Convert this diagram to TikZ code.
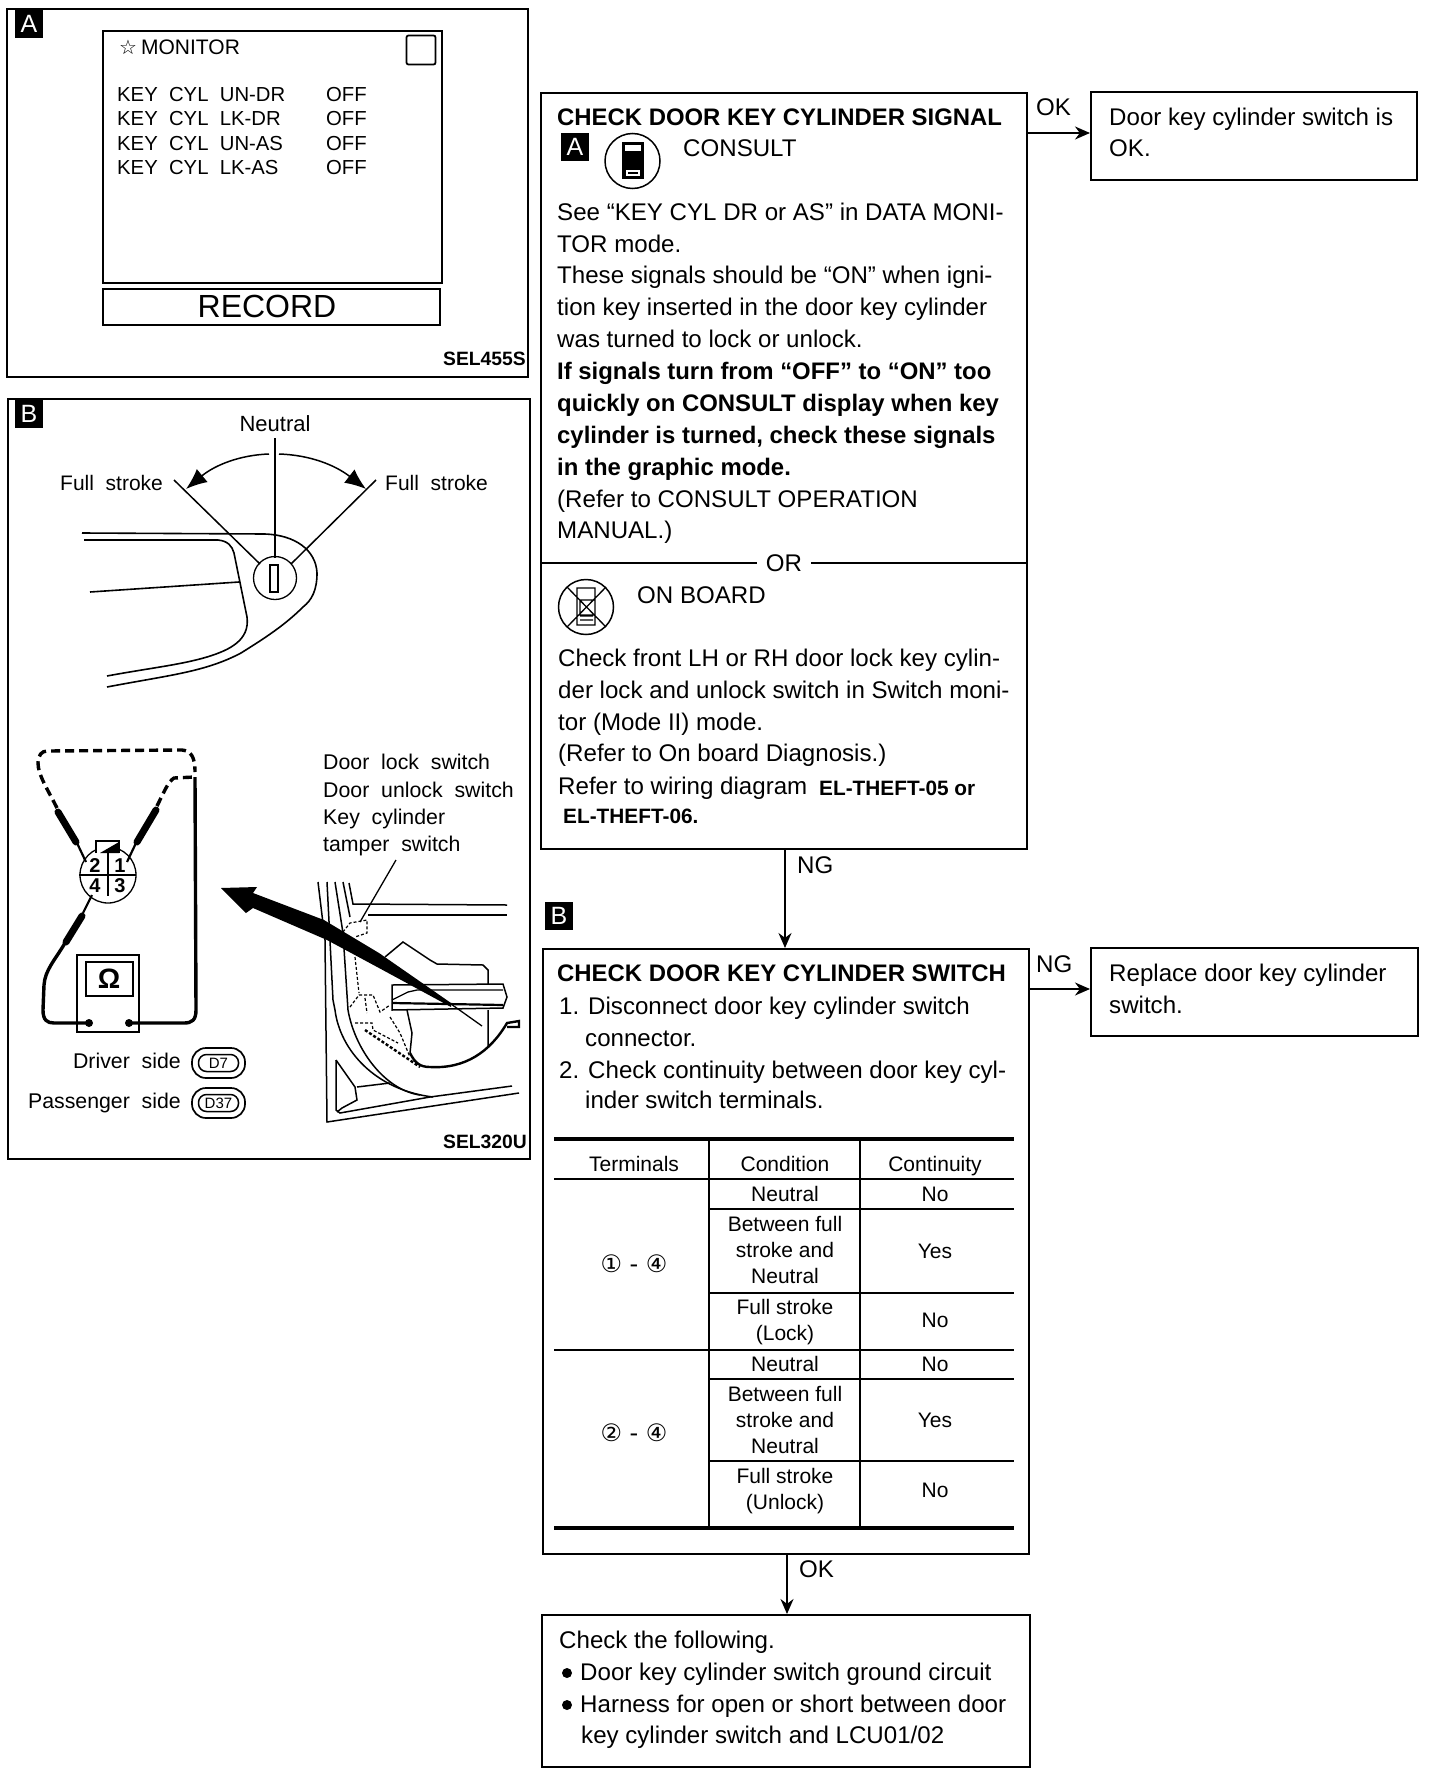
\documentclass[tikz,border=0pt]{standalone}
\usepackage{fontspec}
\setmainfont{Liberation Sans}
\newfontfamily\djv{DejaVu Sans}
\usetikzlibrary{arrows.meta}
\tikzset{
 x=1pt,y=-1pt,
 box/.style={draw,line width=1.7pt},
 body/.style={anchor=base west,inner sep=0pt,font=\fontsize{24.1}{28}\selectfont},
 bodyb/.style={anchor=base west,inner sep=0pt,font=\fontsize{23.9}{28}\bfseries\selectfont},
 small/.style={anchor=base west,inner sep=0pt,font=\fontsize{20.3}{24}\selectfont},
 sketchlabel/.style={anchor=base west,inner sep=0pt,font=\fontsize{21.3}{24}\selectfont},
 cell/.style={anchor=base,inner sep=0pt,align=center,font=\fontsize{21}{26}\selectfont},
 badge/.style={fill=black,text=white,inner sep=0pt,minimum width=28pt,minimum height=28pt,font=\fontsize{25}{25}\selectfont},
 flow/.style={line width=1.7pt,-{Stealth[length=15pt,width=13pt]}},
 thin line/.style={line width=1.3pt},
 bighead/.style={-{Latex[length=21pt,width=17pt]}},
 probe/.style={line width=7pt,line cap=round},
 wire/.style={line width=3.4pt},
 dashwire/.style={line width=3.4pt,dash pattern=on 9pt off 5pt},
 pin/.style={anchor=base,inner sep=0pt,font=\fontsize{20}{20}\bfseries\selectfont},
 pill/.style={draw,line width=1.7pt,rounded corners=14pt,minimum width=53pt,minimum height=30pt,inner sep=0pt},
 pillin/.style={draw,line width=1.5pt,rounded corners=8pt,minimum width=40pt,minimum height=17pt,inner sep=0pt,font=\fontsize{15}{15}\selectfont},
 doorline/.style={line width=1.5pt},
 doordash/.style={line width=1.2pt,densely dashed},
}
\begin{document}
\begin{tikzpicture}
\useasboundingbox (0,0) rectangle (1440,1774);
% Panel A
\node[box,minimum width=521pt,minimum height=368pt,anchor=north west,inner sep=0pt] (pa) at (6,8) {};
\node[badge] (ba) at (29,24) {A};
\node[box,minimum width=339pt,minimum height=252pt,anchor=north west,inner sep=0pt] (scr) at (102,30) {};
\node[draw,line width=1.8pt,rounded corners=2pt,minimum width=29pt,minimum height=29pt,inner sep=0pt] (sq) at (421,50) {};
\node[small,font=\fontsize{21}{24}\selectfont] (m) at (119,55) {{\djv\fontsize{20}{20}\selectfont ☆}\hspace{4pt}MONITOR};
\node[small] (k1) at (117,102) {KEY\ \ CYL\ \ UN-DR};
\node[small] (k2) at (117,126) {KEY\ \ CYL\ \ LK-DR};
\node[small] (k3) at (117,150) {KEY\ \ CYL\ \ UN-AS};
\node[small] (k4) at (117,174) {KEY\ \ CYL\ \ LK-AS};
\node[small] (o1) at (326,102) {OFF};
\node[small] (o2) at (326,126) {OFF};
\node[small] (o3) at (326,150) {OFF};
\node[small] (o4) at (326,174) {OFF};
\node[box,minimum width=337pt,minimum height=36pt,inner sep=0pt,anchor=north west] (rec) at (102,288) {};
\node[inner sep=0pt,anchor=base,font=\fontsize{32}{32}\selectfont] (rect) at (267,317) {RECORD};
\node[anchor=base east,inner sep=0pt,font=\fontsize{19.3}{22}\bfseries\selectfont] (s1) at (526,365) {SEL455S};
% Panel B
\node[box,minimum width=522pt,minimum height=760pt,anchor=north west,inner sep=0pt] (pb) at (7,398) {};
\node[badge] (bb) at (29,414) {B};
\node[cell,font=\fontsize{22}{24}\selectfont] (ne) at (275,431) {Neutral};
\node[small,font=\fontsize{21}{24}\selectfont] (fl) at (60,490) {Full\ \ stroke};
\node[small,font=\fontsize{21}{24}\selectfont] (fr) at (385,490) {Full\ \ stroke};
% key sketch
\draw[line width=2.2pt] (275,438) -- (275,508);
\draw[thin line] (275,508) -- (275,558);
\draw[line width=1.5pt] (174,480) -- (260,564);
\draw[line width=1.5pt] (376,480) -- (291,564);
\draw[line width=1.5pt,bighead] (269,454) .. controls (240,455) and (215,465) .. (186,489);
\draw[line width=1.5pt,bighead] (279,454) .. controls (310,455) and (335,465) .. (366,489);
\draw[thin line] (275,578) circle (21.5);
\draw[thin line] (270,565) rectangle (278,592);
\draw[line width=1.6pt] (82,533) -- (265,534) .. controls (295,535) and (316,550) .. (317,573) .. controls (317,590) and (312,600) .. (303,607) .. controls (285,625) and (265,638) .. (241,653) .. controls (205,672) and (170,675) .. (107,687);
\draw[line width=1.6pt] (84,540) -- (218,540) .. controls (228,541) and (232,546) .. (234,553) -- (247,617) .. controls (250,640) and (230,650) .. (207,657) .. controls (180,665) and (150,668) .. (107,676);
\draw[line width=1.6pt] (90,592) -- (239,582);
% ohmmeter sketch
\node[draw,line width=2pt,minimum width=62pt,minimum height=77pt,inner sep=0pt] (mt) at (108,993) {};
\node[draw,line width=2pt,minimum width=47pt,minimum height=34pt,inner sep=0pt,font=\fontsize{28}{28}\bfseries\selectfont] (om) at (109,979) {Ω};
\node[draw,line width=1.3pt,circle,minimum size=56pt,inner sep=0pt] (con) at (108,875) {};
\draw[line width=1.7pt] (79,875) -- (136,875) (108,853) -- (108,896);
\draw[line width=1.7pt,fill=white] (96,853) -- (96,841) -- (119,841) -- (119,853);
\fill (100,853) -- (119,842) -- (119,853) -- cycle;
\node[pin] (n2) at (95,872) {2};
\node[pin] (n1) at (120,872) {1};
\node[pin] (n4) at (95,892) {4};
\node[pin] (n3) at (120,892) {3};
\draw[probe] (58,812) -- (76,842);
\draw[probe] (156,810) -- (137,842);
\draw[probe] (82,916) -- (66,942);
\draw[line width=2.2pt] (77,843) -- (86,862) (136,843) -- (127,862) (83,913) -- (92,895);
\draw[dashwire] (57,808) .. controls (48,790) and (38,775) .. (38,763) .. controls (38,755) and (42,751) .. (47,751) -- (182,750) .. controls (190,751) and (195,755) .. (195,772);
\draw[dashwire] (157,806) .. controls (165,790) and (168,782) .. (174,778) -- (195,777);
\draw[wire] (195,777) -- (196,1010) .. controls (196,1020) and (192,1023) .. (184,1023) -- (129,1023);
\draw[wire] (65,943) .. controls (55,960) and (45,970) .. (44,985) -- (43,1010) .. controls (43,1020) and (47,1023) .. (54,1023) -- (89,1023);
\fill (89,1023) circle (4) (129,1023) circle (4);
\node[sketchlabel,anchor=base east] (ds) at (181,1068) {Driver\ \ side};
\node[sketchlabel,anchor=base east] (ps) at (181,1108) {Passenger\ \ side};
\node[pill] (d7o) at (218.5,1063) {};
\node[pillin] (d7) at (218.5,1063) {D7};
\node[pill] (d37o) at (218.5,1103) {};
\node[pillin] (d37) at (218.5,1103) {D37};
\node[sketchlabel] (l1) at (323,769) {Door\ \ lock\ \ switch};
\node[sketchlabel] (l2) at (323,797) {Door\ \ unlock\ \ switch};
\node[sketchlabel] (l3) at (323,824) {Key\ \ cylinder};
\node[sketchlabel] (l4) at (323,851) {tamper\ \ switch};
% door sketch
\draw[thin line] (396,860) -- (360,922);
\draw[doorline] (318,882) -- (325,940) -- (327,1122) -- (519,1093);
\draw[doorline] (327,882) -- (333,1000) -- (335,1010) .. controls (340,1050) and (375,1090) .. (433,1097);
\draw[doorline] (335,882) -- (343,933) -- (348,1010) .. controls (355,1050) and (385,1090) .. (420,1095);
\draw[doorline] (343,882) -- (350,917);
\draw[doorline] (349,883) -- (353,904) -- (507,905);
\draw[doorline] (368,915) -- (507,915);
\draw[doorline] (336,1060) -- (355,1087) -- (357,1100) -- (342,1108) -- (337,1112);
\draw[doorline] (336,1060) -- (336,1110) -- (340,1113) -- (430,1097) -- (512,1086);
\draw[doorline] (357,1087) -- (390,1083);
\draw[doordash] (343,932) -- (350,923) -- (367,920) -- (367,933) -- (355,937);
\draw[doordash] (355,957) -- (359,993);
\draw[doordash] (350,1007) -- (359,995) -- (373,995) -- (380,1012) -- (390,1005);
\draw[doordash] (365,998) -- (367,1013);
\draw[doordash] (355,1023) -- (372,1023) -- (373,1030) -- (398,1043);
\draw[doordash] (390,1017) -- (400,1033) -- (410,1057);
\draw[line width=2.4pt,dash pattern=on 3pt off 2pt] (365,1030) -- (420,1067);
\draw[doorline] (385,957) -- (403,942) -- (430,960) -- (437,964) -- (483,965) -- (488,970) -- (488,984) (488,1010) -- (488,1047);
\draw[doorline] (392,985) -- (503,984) -- (507,997) -- (503,1008) -- (392,1010) -- cycle;
\draw[line width=2.2pt] (392,1003) -- (503,1005);
\draw[thin line] (392,1000) -- (408,992) -- (417,990) -- (503,990);
\draw[doorline] (407,1010) -- (412,1033) -- (410,1053);
\draw[line width=2.4pt] (410,1053) .. controls (415,1063) and (420,1067) .. (430,1067) .. controls (465,1069) and (490,1052) .. (507,1023) -- (519,1021) -- (519,1027) -- (507,1027);
\fill (221,888) -- (257,887) -- (253,893) -- (324,920) -- (379,953) -- (451,1003) -- (451,1007) -- (379,968) -- (327,940) -- (253,908) -- (246,913) -- cycle;
\draw[thin line] (451,1004) -- (482,1026);
\node[anchor=base east,inner sep=0pt,font=\fontsize{19.3}{22}\bfseries\selectfont] (s2) at (527,1148) {SEL320U};
% Flow boxes
\node[box,minimum width=486pt,minimum height=756pt,anchor=north west,inner sep=0pt] (c1) at (540,92) {};
\node[bodyb] (c1t) at (557,125) {CHECK DOOR KEY CYLINDER SIGNAL};
\node[badge] (b1a) at (575,147) {A};
\node[draw,line width=1.5pt,circle,minimum size=55pt,inner sep=0pt] (ci) at (632.5,161) {};
\draw[line width=1.4pt,fill=black] (623,143) rectangle (643,178);
\fill[white] (625,145) rectangle (641,151);
\fill[white] (626,170) rectangle (640,176);
\fill (628,172) rectangle (638,174);
\node[body] (cons) at (683,157) {CONSULT};
\node[body] (t1) at (557,220) {See “KEY CYL DR or AS” in DATA MONI-};
\node[body] (t2) at (557,252) {TOR mode.};
\node[body] (t3) at (557,283) {These signals should be “ON” when igni-};
\node[body] (t4) at (557,315) {tion key inserted in the door key cylinder};
\node[body] (t5) at (557,347) {was turned to lock or unlock.};
\node[bodyb] (t6) at (557,379) {If signals turn from “OFF” to “ON” too};
\node[bodyb] (t7) at (557,411) {quickly on CONSULT display when key};
\node[bodyb] (t8) at (557,443) {cylinder is turned, check these signals};
\node[bodyb] (t9) at (557,475) {in the graphic mode.};
\node[body] (t10) at (557,507) {(Refer to CONSULT OPERATION};
\node[body] (t11) at (557,538) {MANUAL.)};
\node[body,anchor=base,fill=white,inner xsep=9pt] (or) at (784,571) {OR};
\coordinate (orl) at (540,563);
\coordinate (orr) at (1026,563);
\draw[line width=1.8pt] (orl) -- (or.west |- orl) (or.east |- orr) -- (orr);
\node[draw,line width=1.5pt,circle,minimum size=55pt,inner sep=0pt] (oi) at (586,607) {};
\draw[line width=1.3pt] (577,588) rectangle (595,625) (567,587) -- (606,627) (606,587) -- (567,627) (580,600) rectangle (595,615) (580,616) -- (593,616) (580,620) -- (593,620);
\node[body] (onb) at (637,603) {ON BOARD};
\node[body] (u1) at (558,666) {Check front LH or RH door lock key cylin-};
\node[body] (u2) at (558,698) {der lock and unlock switch in Switch moni-};
\node[body] (u3) at (558,730) {tor (Mode II) mode.};
\node[body] (u4) at (558,761) {(Refer to On board Diagnosis.)};
\node[body] (u5) at (558,794) {Refer to wiring diagram};
\node[anchor=base west,inner sep=0pt,font=\fontsize{20.8}{24}\bfseries\selectfont] (u5b) at (819,795) {EL-THEFT-05 or};
\node[anchor=base west,inner sep=0pt,font=\fontsize{20.8}{24}\bfseries\selectfont] (u6) at (563,823) {EL-THEFT-06.};
% OK box
\node[box,minimum width=326pt,minimum height=88pt,anchor=north west,inner sep=0pt] (okb) at (1090,91) {};
\node[body] (ok1) at (1109,125) {Door key cylinder switch is};
\node[body] (ok2) at (1109,157) {OK.};
\draw[flow] (c1.east |- 0,133) coordinate (c1o) -- (okb.west |- c1o);
\node[body] (okl) at (1036,116) {OK};
% Second
\node[box,minimum width=486pt,minimum height=605pt,anchor=north west,inner sep=0pt] (c2) at (542,948) {};
\node[badge] (b2b) at (559,916) {B};
\draw[flow] (c1.south -| 785,0) coordinate (c1s) -- (c2.north -| c1s);
\node[body] (ngl) at (797,873) {NG};
\node[bodyb] (c2t) at (557,981) {CHECK DOOR KEY CYLINDER SWITCH};
\node[body] (v1) at (559,1014) {1. Disconnect door key cylinder switch};
\node[body] (v2) at (585,1046) {connector.};
\node[body] (v3) at (559,1078) {2. Check continuity between door key cyl-};
\node[body] (v4) at (585,1108) {inder switch terminals.};
% table
\draw[line width=3.8pt] (554,1139) -- (1014,1139);
\draw[line width=3.8pt] (554,1528) -- (1014,1528);
\draw[line width=1.8pt] (709,1140) -- (709,1527) (860,1140) -- (860,1527);
\draw[line width=1.9pt] (554,1179) -- (1014,1179) (554,1350) -- (1014,1350);
\draw[line width=1.9pt] (709,1209) -- (1014,1209) (709,1293) -- (1014,1293) (709,1379) -- (1014,1379) (709,1461) -- (1014,1461);
\node[cell] (h1) at (634,1171) {Terminals};
\node[cell] (h2) at (785,1171) {Condition};
\node[cell] (h3) at (935,1171) {Continuity};
\node[cell] (r1) at (785,1201) {Neutral};
\node[cell] (r1c) at (935,1201) {No};
\node[cell,anchor=north] (r2) at (785,1216) {Between full\\stroke and\\Neutral};
\node[cell] (r2c) at (935,1258) {Yes};
\node[cell,anchor=north] (r3) at (785,1299) {Full stroke\\(Lock)};
\node[cell] (r3c) at (935,1327) {No};
\node[cell] (r4) at (785,1371) {Neutral};
\node[cell] (r4c) at (935,1371) {No};
\node[cell,anchor=north] (r5) at (785,1386) {Between full\\stroke and\\Neutral};
\node[cell] (r5c) at (935,1427) {Yes};
\node[cell,anchor=north] (r6) at (785,1468) {Full stroke\\(Unlock)};
\node[cell] (r6c) at (935,1497) {No};
\node[anchor=center,inner sep=0pt,font=\djv\fontsize{24}{26}\selectfont] (tm1) at (634,1264) {①\ -\ ④};
\node[anchor=center,inner sep=0pt,font=\djv\fontsize{24}{26}\selectfont] (tm2) at (634,1433) {②\ -\ ④};
% NG box
\node[box,minimum width=327pt,minimum height=88pt,anchor=north west,inner sep=0pt] (ngb) at (1090,947) {};
\node[body] (ng1) at (1109,981) {Replace door key cylinder};
\node[body] (ng2) at (1109,1013) {switch.};
\draw[flow] (c2.east |- 0,989) coordinate (c2o) -- (ngb.west |- c2o);
\node[body] (ngr) at (1036,972) {NG};
% Last
\node[box,minimum width=488pt,minimum height=152pt,anchor=north west,inner sep=0pt] (lb) at (541,1614) {};
\draw[flow] (c2.south -| 787,0) coordinate (c2s) -- (lb.north -| c2s);
\node[body] (okd) at (799,1577) {OK};
\node[body] (w1) at (559,1648) {Check the following.};
\node[body] (w2) at (580,1680) {Door key cylinder switch ground circuit};
\node[body] (w3) at (580,1712) {Harness for open or short between door};
\node[body] (w4) at (581,1743) {key cylinder switch and LCU01/02};
\fill (567,1673) circle (5) (567,1705) circle (5);
\end{tikzpicture}
\end{document}
